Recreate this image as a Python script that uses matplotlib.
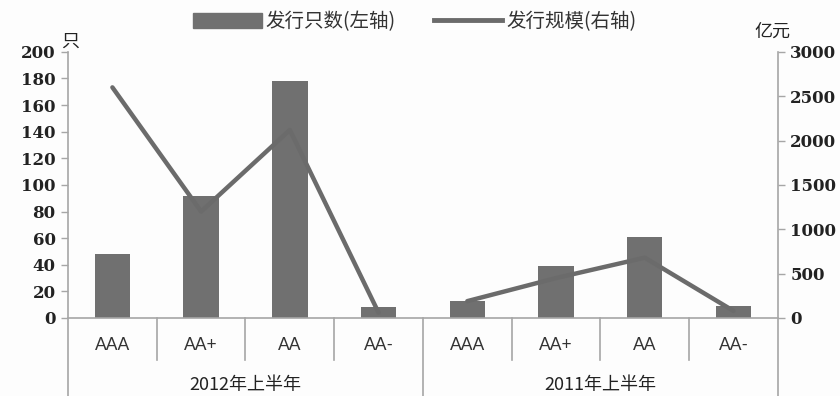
import numpy as np
import matplotlib.pyplot as plt
import matplotlib.transforms as mtransforms
from matplotlib.patches import Patch
from matplotlib.lines import Line2D

plt.rcParams['font.family'] = ['Noto Sans CJK SC', 'DejaVu Sans']

groups = ['2012年上半年', '2011年上半年']
ratings = ['AAA', 'AA+', 'AA', 'AA-']
counts = [48, 92, 178, 8, 13, 39, 61, 9]           # 发行只数 (只)
scale = [2600, 1200, 2120, 60, 190, 450, 680, 80]  # 发行规模 (亿元)

bar_color = '#707070'
line_color = '#6b6b6b'
axis_color = '#a6a6a6'

fig = plt.figure(figsize=(8.4, 3.96), dpi=100)
fig.patch.set_facecolor('#fdfdfd')
ax = fig.add_axes([0.081, 0.197, 0.845, 0.672])
ax.set_facecolor('none')
ax2 = ax.twinx()

n = len(counts)
x = np.arange(n)
ax.bar(x, counts, width=0.4, color=bar_color, zorder=2)
# one line per half-year, not joined across groups
for g in range(len(groups)):
    sl = slice(g * 4, g * 4 + 4)
    ax2.plot(x[sl], scale[sl], color=line_color, lw=3.2, solid_joinstyle='round',
             solid_capstyle='round', zorder=3)

ax.set_xlim(-0.5, n - 0.5)
ax.set_ylim(0, 200)
ax2.set_ylim(0, 3000)
ax.set_yticks(np.arange(0, 201, 20))
ax2.set_yticks(np.arange(0, 3001, 500))

for lab in ax.get_yticklabels() + ax2.get_yticklabels():
    lab.set_fontfamily('DejaVu Serif')
    lab.set_fontweight('bold')
    lab.set_fontsize(12)
    lab.set_color('#222222')

for a in (ax, ax2):
    for s in a.spines.values():
        s.set_visible(False)
    a.tick_params(axis='y', length=5, width=1, color=axis_color, pad=4)
ax.tick_params(axis='x', length=0, labelbottom=False)
ax.spines['bottom'].set_visible(True)
ax.spines['bottom'].set_color(axis_color)
ax.spines['bottom'].set_linewidth(1.2)

# vertical axis lines run down through the category area
trans = mtransforms.blended_transform_factory(ax.transData, ax.transAxes)
ybot = -0.197 / 0.672
for xv in (-0.5, n / 2 - 0.5, n - 0.5):
    ax.plot([xv, xv], [1.0 if xv != n / 2 - 0.5 else 0, ybot], transform=trans,
            color=axis_color, lw=1.2, clip_on=False)
for xv in (0.5, 1.5, 2.5, 4.5, 5.5, 6.5):
    ax.plot([xv, xv], [0, -0.158], transform=trans, color=axis_color, lw=1.2, clip_on=False)

for i in range(n):
    ax.text(x[i], -0.1, ratings[i % 4], transform=trans, ha='center', va='center',
            fontsize=12.5, family='Lato', color='#333333')
for g, name in enumerate(groups):
    ax.text(g * 4 + 1.5, -0.25, name, transform=trans, ha='center', va='center',
            fontsize=13, color='#222222')

fig.text(0.084, 0.895, '只', ha='center', va='center', fontsize=13, color='#222222')
fig.text(0.92, 0.92, '亿元', ha='center', va='center', fontsize=13, color='#222222')

handles = [Patch(color=bar_color), Line2D([0], [0], color=line_color, lw=3.5)]
fig.legend(handles, ['发行只数(左轴)', '发行规模(右轴)'], loc='center', ncol=2,
           bbox_to_anchor=(0.494, 0.945), frameon=False, fontsize=14,
           handlelength=3.5, handleheight=0.8, handletextpad=0.2, columnspacing=2.0,
           labelcolor='#333333')

fig.savefig('out.png', dpi=100, facecolor=fig.get_facecolor())
